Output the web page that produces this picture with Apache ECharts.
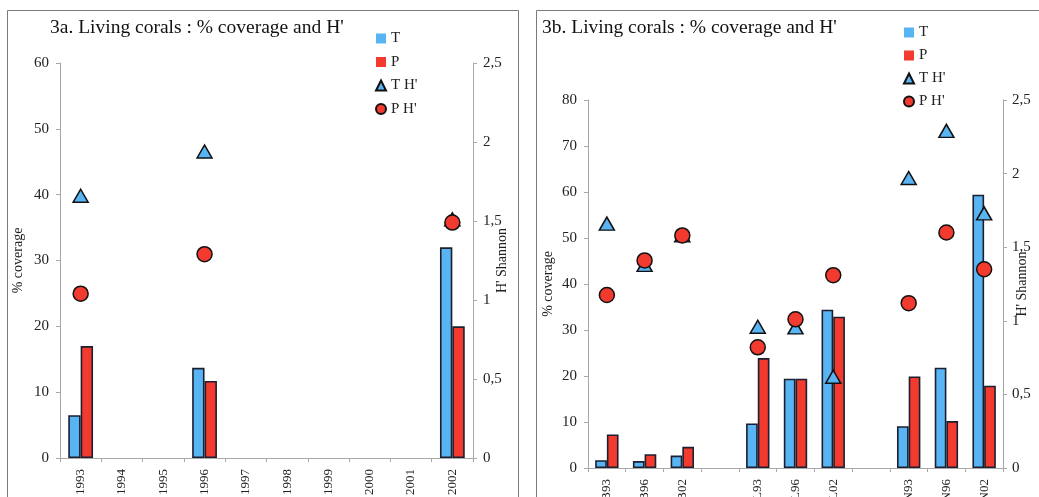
<!DOCTYPE html>
<html>
<head>
<meta charset="utf-8">
<script src="https://cdn.jsdelivr.net/npm/echarts@6/dist/echarts.min.js"></script>
<style>
html,body{margin:0;padding:0;background:#fff;}
#c{width:1039px;height:497px;}
</style>
</head>
<body>
<div id="c"></div>
<script>
// ---- Data: chart 3a ----
const yearsA = ['1993','1994','1995','1996','1997','1998','1999','2000','2001','2002'];
const tCoverA = [6.5, null, null, 13.7, null, null, null, null, null, 32];
const pCoverA = [17.0, null, null, 11.7, null, null, null, null, null, 20];
const tShannonA = [1.66, null, null, 1.94, null, null, null, null, null, 1.51];
const pShannonA = [1.04, null, null, 1.29, null, null, null, null, null, 1.49];

// ---- Data: chart 3b ----
const sitesB = ['B93','B96','B02','','L93','L96','L02','','N93','N96','N02'];
const tCoverB = [1.7, 1.5, 2.7, null, 9.7, 19.4, 34.4, null, 9.1, 21.8, 59.4];
const pCoverB = [7.3, 3.0, 4.6, null, 23.9, 19.4, 32.9, null, 19.9, 10.2, 17.9];
const tShannonB = [1.66, 1.38, 1.58, null, 0.96, 0.955, 0.62, null, 1.97, 2.29, 1.73];
const pShannonB = [1.175, 1.41, 1.58, null, 0.82, 1.01, 1.31, null, 1.12, 1.60, 1.35];

const titleA = "3a. Living corals : % coverage and H'";
const titleB = "3b. Living corals : % coverage and H'";

const BLUE = '#58b4f2', RED = '#f23a2f', EDGE = '#1b1f30';
const FONT = 'Liberation Serif';
const yTxt = {fontFamily: FONT, fontSize: 15, color: '#222'};
const xTxt = {fontFamily: FONT, fontSize: 13, color: '#222'};
const axisLineStyle = {show: true, lineStyle: {color: '#a8a8a8', width: 1}};
const comma = v => String(v).replace('.', ',');

const chart = echarts.init(document.getElementById('c'), null, {renderer: 'canvas'});

function legendFor(left, top, gap) {
  return {
    orient: 'vertical', left: left, top: top, itemWidth: 10, itemHeight: 10, itemGap: gap,
    padding: 0, selectedMode: false,
    textStyle: {fontFamily: FONT, fontSize: 15, color: '#222', lineHeight: 15},
    data: [
      {name: 'T', icon: 'rect', itemStyle: {color: BLUE, borderWidth: 0}},
      {name: 'P', icon: 'rect', itemStyle: {color: RED, borderWidth: 0}},
      {name: "T H'", icon: 'triangle'},
      {name: "P H'", icon: 'circle'}
    ]
  };
}

function catAxis(idx, data) {
  return {
    type: 'category', gridIndex: idx, data: data, boundaryGap: true,
    axisLine: axisLineStyle,
    axisTick: {show: true, length: 4, lineStyle: {color: '#a8a8a8'}},
    axisLabel: Object.assign({rotate: 90, margin: 11, interval: 0}, xTxt),
    splitLine: {show: false}
  };
}

function valAxis(idx, pos, min, max, interval, name, nameGap, fmt, margin) {
  return {
    type: 'value', gridIndex: idx, position: pos, min: min, max: max, interval: interval,
    name: name, nameLocation: 'middle', nameGap: nameGap, nameRotate: 90,
    nameMoveOverlap: false,
    nameTextStyle: {fontFamily: FONT, fontSize: 14, color: '#222'},
    axisLine: axisLineStyle,
    axisTick: {show: true, length: 4, lineStyle: {color: '#a8a8a8'}},
    axisLabel: Object.assign({formatter: fmt, margin: margin}, yTxt),
    splitLine: {show: false}
  };
}

function barSeries(name, color, xi, yi, data, width) {
  return {
    name: name, type: 'bar', xAxisIndex: xi, yAxisIndex: yi, data: data,
    barWidth: width, barGap: '0%',
    itemStyle: {color: color, borderColor: EDGE, borderWidth: 1.6},
    emphasis: {disabled: true}, z: 2
  };
}

function scatterSeries(name, symbol, size, color, xi, yi, data, z) {
  return {
    name: name, type: 'scatter', xAxisIndex: xi, yAxisIndex: yi, data: data,
    symbol: symbol, symbolSize: size,
    itemStyle: {color: color, borderColor: '#111', borderWidth: 1.5, opacity: 1},
    emphasis: {disabled: true}, z: z
  };
}

chart.setOption({
  animation: false,
  backgroundColor: '#fff',
  title: [
    {text: titleA, left: 50, top: 18, padding: 0, textStyle: {fontFamily: FONT, fontSize: 19.5, fontWeight: 'normal', color: '#111'}},
    {text: titleB, left: 542, top: 18, padding: 0, textStyle: {fontFamily: FONT, fontSize: 19.5, fontWeight: 'normal', color: '#111'}}
  ],
  legend: [legendFor(375, 31, 8.5), legendFor(903, 25, 8)],
  graphic: [
    {type: 'rect', shape: {x: 7.5, y: 10.5, width: 511, height: 520}, style: {fill: null, stroke: '#7a7a7a', lineWidth: 1}, silent: true},
    {type: 'rect', shape: {x: 536.5, y: 10.5, width: 560, height: 520}, style: {fill: null, stroke: '#7a7a7a', lineWidth: 1}, silent: true}
  ],
  grid: [
    {left: 60, right: 566, top: 63, bottom: 39, outerBoundsMode: 'none', containLabel: false},
    {left: 588, right: 36, top: 100, bottom: 29, outerBoundsMode: 'none', containLabel: false}
  ],
  xAxis: [catAxis(0, yearsA), catAxis(1, sitesB)],
  yAxis: [
    valAxis(0, 'left', 0, 60, 10, '% coverage', 35, v => v, 11),
    valAxis(0, 'right', 0, 2.5, 0.5, "H' Shannon", 22, comma, 10),
    valAxis(1, 'left', 0, 80, 10, '% coverage', 33, v => v, 11),
    valAxis(1, 'right', 0, 2.5, 0.5, "H' Shannon", 12, comma, 9)
  ],
  series: [
    barSeries('T', BLUE, 0, 0, tCoverA, '30%'),
    barSeries('P', RED, 0, 0, pCoverA, '30%'),
    scatterSeries("T H'", 'triangle', [15, 13], BLUE, 0, 1, tShannonA, 3),
    scatterSeries("P H'", 'circle', 15, RED, 0, 1, pShannonA, 4),
    barSeries('T', BLUE, 1, 2, tCoverB, '31%'),
    barSeries('P', RED, 1, 2, pCoverB, '31%'),
    scatterSeries("T H'", 'triangle', [15, 13], BLUE, 1, 3, tShannonB, 3),
    scatterSeries("P H'", 'circle', 15, RED, 1, 3, pShannonB, 4)
  ]
});
</script>
</body>
</html>
